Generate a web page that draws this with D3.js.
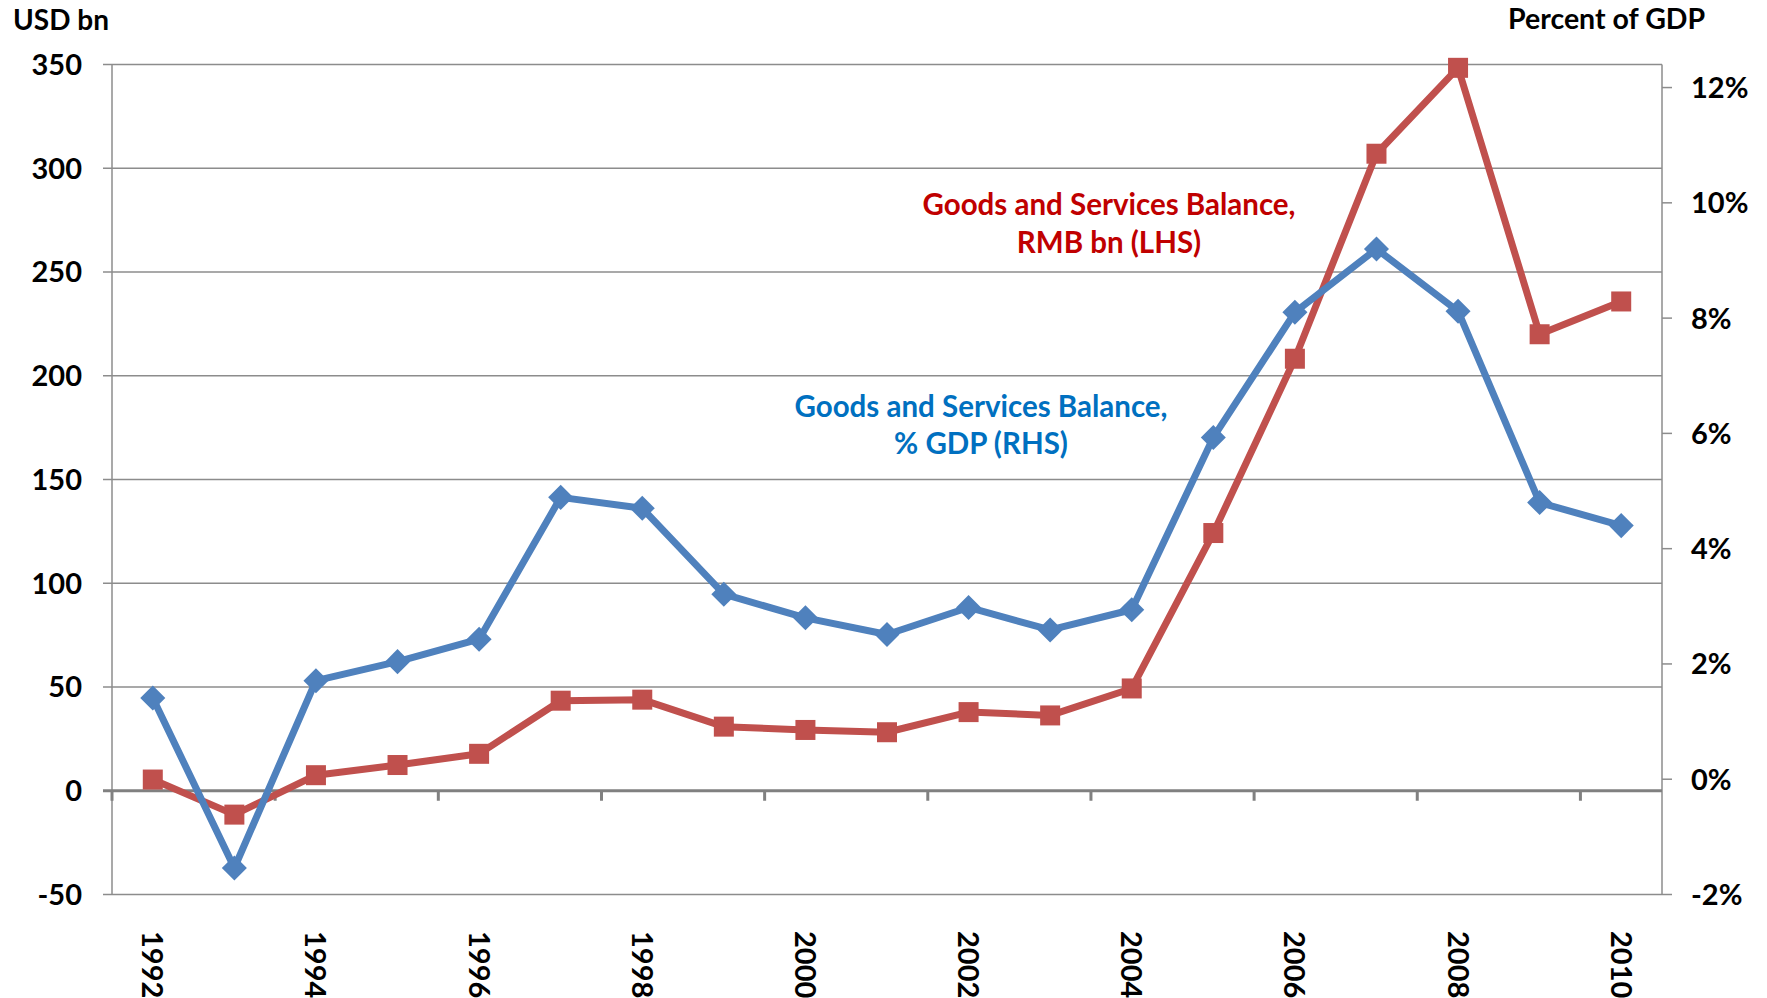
<!DOCTYPE html>
<html>
<head>
<meta charset="utf-8">
<script src="https://cdn.jsdelivr.net/npm/d3@7"></script>
<style>
  body { margin: 0; background: #fff; }
  text { font-family: Lato, "Open Sans", sans-serif; font-weight: bold; }
</style>
</head>
<body>
<script>
const years = [1992, 1993, 1994, 1995, 1996, 1997, 1998, 1999, 2000, 2001, 2002, 2003, 2004, 2005, 2006, 2007, 2008, 2009, 2010]
const balanceUsd = [5.4, -11.5, 7.5, 12.4, 17.8, 43.4, 43.9, 30.9, 29.3, 28.2, 37.9, 36.3, 49.3, 124.2, 208.2, 307, 348.4, 220, 235.8]
const balancePct = [1.41, -1.54, 1.71, 2.04, 2.43, 4.89, 4.70, 3.21, 2.80, 2.51, 2.98, 2.59, 2.94, 5.93, 8.10, 9.20, 8.12, 4.80, 4.40]
const leftTicks = [-50, 0, 50, 100, 150, 200, 250, 300, 350]
const rightTicks = [-2, 0, 2, 4, 6, 8, 10, 12]
const yearLabels = [1992, 1994, 1996, 1998, 2000, 2002, 2004, 2006, 2008, 2010]

const width = 1767
const height = 998
const plotLeft = 112
const plotRight = 1662
const plotTop = 64.5
const plotBottom = 894.5

const red = '#C0504D'
const blue = '#4F81BD'
const gridColor = '#8c8c8c'

let svg = d3.select('body')
  .append('svg')
  .attr('width', width)
  .attr('height', height)
  .style('background-color', 'white')

let x = d3.scalePoint()
  .domain(years)
  .range([plotLeft, plotRight])
  .padding(0.5)

let yL = d3.scaleLinear()
  .domain([-50, 350])
  .range([plotBottom, plotTop])

let yR = d3.scaleLinear()
  .domain([-2, 12.4])
  .range([plotBottom, plotTop])

// gridlines + left ticks
svg.selectAll('.grid')
  .data(leftTicks.filter(d => d !== 0))
  .enter()
  .append('line')
  .attr('x1', plotLeft - 9)
  .attr('x2', plotRight)
  .attr('y1', d => yL(d))
  .attr('y2', d => yL(d))
  .attr('stroke', gridColor)
  .attr('stroke-width', 1.5)

svg.selectAll('.lbl')
  .data(leftTicks)
  .enter()
  .append('text')
  .attr('x', 82)
  .attr('y', d => yL(d))
  .attr('dy', '0.36em')
  .attr('text-anchor', 'end')
  .style('font-size', '29px')
  .text(d => d)

// left and right axis lines
svg.append('line')
  .attr('x1', plotLeft).attr('x2', plotLeft)
  .attr('y1', plotTop).attr('y2', plotBottom)
  .attr('stroke', gridColor)
  .attr('stroke-width', 1.5)

svg.append('line')
  .attr('x1', plotRight).attr('x2', plotRight)
  .attr('y1', plotTop).attr('y2', plotBottom)
  .attr('stroke', gridColor)
  .attr('stroke-width', 1.5)

svg.selectAll('.rtick')
  .data(rightTicks)
  .enter()
  .append('line')
  .attr('x1', plotRight)
  .attr('x2', plotRight + 10)
  .attr('y1', d => yR(d))
  .attr('y2', d => yR(d))
  .attr('stroke', gridColor)
  .attr('stroke-width', 1.5)

svg.selectAll('.rlbl')
  .data(rightTicks)
  .enter()
  .append('text')
  .attr('x', 1691)
  .attr('y', d => yR(d))
  .attr('dy', '0.36em')
  .style('font-size', '29px')
  .text(d => d + '%')

// zero line (category axis)
svg.append('line')
  .attr('x1', plotLeft - 9)
  .attr('x2', plotRight)
  .attr('y1', yL(0))
  .attr('y2', yL(0))
  .attr('stroke', '#808080')
  .attr('stroke-width', 3)

let step = x.step()
svg.selectAll('.xtick')
  .data(years.filter((d, i) => i % 2 === 0))
  .enter()
  .append('line')
  .attr('x1', d => x(d) - step / 2)
  .attr('x2', d => x(d) - step / 2)
  .attr('y1', yL(0))
  .attr('y2', yL(0) + 10)
  .attr('stroke', '#808080')
  .attr('stroke-width', 3)

svg.selectAll('.xlbl')
  .data(yearLabels)
  .enter()
  .append('text')
  .attr('transform', d => `translate(${x(d)},931) rotate(90)`)
  .attr('dy', '0.36em')
  .style('font-size', '29px')
  .text(d => d)

// axis titles
svg.append('text')
  .attr('x', 13)
  .attr('y', 30)
  .style('font-size', '28px')
  .text('USD bn')

svg.append('text')
  .attr('x', 1508)
  .attr('y', 29)
  .style('font-size', '28.5px')
  .text('Percent of GDP')

// series
let lineL = d3.line()
  .x((d, i) => x(years[i]))
  .y(d => yL(d))

let lineR = d3.line()
  .x((d, i) => x(years[i]))
  .y(d => yR(d))

svg.append('path')
  .datum(balanceUsd)
  .attr('d', lineL)
  .attr('fill', 'none')
  .attr('stroke', red)
  .attr('stroke-width', 7)
  .attr('stroke-linejoin', 'round')

svg.selectAll('.sq')
  .data(balanceUsd)
  .enter()
  .append('rect')
  .attr('x', (d, i) => x(years[i]) - 10)
  .attr('y', d => yL(d) - 10)
  .attr('width', 20)
  .attr('height', 20)
  .attr('fill', red)

svg.append('path')
  .datum(balancePct)
  .attr('d', lineR)
  .attr('fill', 'none')
  .attr('stroke', blue)
  .attr('stroke-width', 7)
  .attr('stroke-linejoin', 'round')

svg.selectAll('.dm')
  .data(balancePct)
  .enter()
  .append('path')
  .attr('d', d3.symbol().type(d3.symbolDiamond2).size(400))
  .attr('transform', (d, i) => `translate(${x(years[i])},${yR(d)})`)
  .attr('fill', blue)

// annotations
svg.append('text')
  .attr('x', 1109)
  .attr('y', 215)
  .attr('text-anchor', 'middle')
  .attr('fill', '#C00000')
  .style('font-size', '29.5px')
  .text('Goods and Services Balance,')

svg.append('text')
  .attr('x', 1109)
  .attr('y', 253)
  .attr('text-anchor', 'middle')
  .attr('fill', '#C00000')
  .style('font-size', '29.5px')
  .text('RMB bn (LHS)')

svg.append('text')
  .attr('x', 981)
  .attr('y', 417)
  .attr('text-anchor', 'middle')
  .attr('fill', '#0070C0')
  .style('font-size', '29.5px')
  .text('Goods and Services Balance,')

svg.append('text')
  .attr('x', 981)
  .attr('y', 454)
  .attr('text-anchor', 'middle')
  .attr('fill', '#0070C0')
  .style('font-size', '29.5px')
  .text('% GDP (RHS)')
</script>
</body>
</html>
